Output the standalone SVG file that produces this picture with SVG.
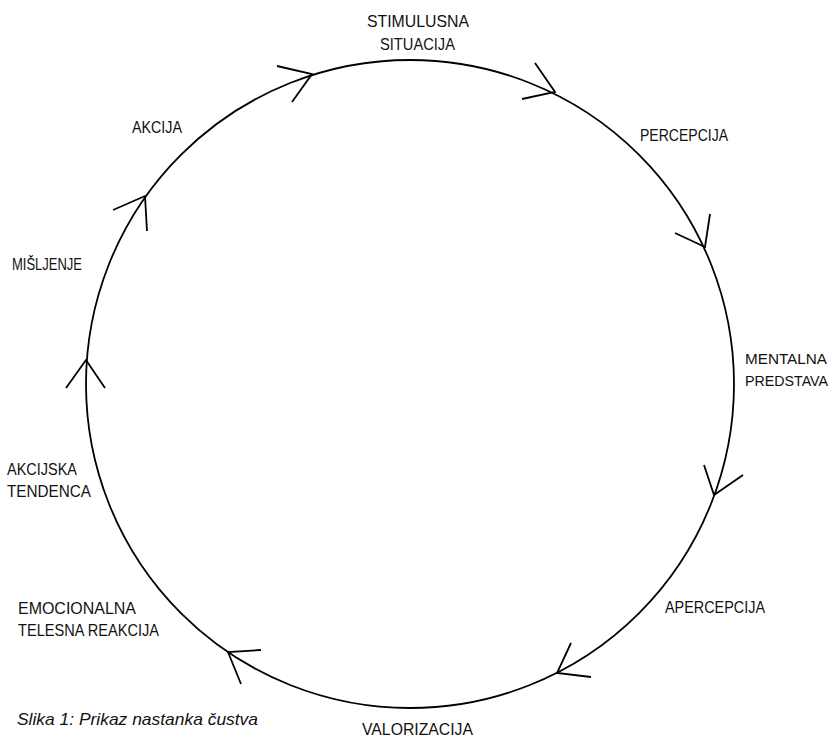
<svg xmlns="http://www.w3.org/2000/svg" width="834" height="737" viewBox="0 0 834 737">
<style>
  .lbl { font-family: "Liberation Sans", Arial, sans-serif; font-size: 16.5px; fill: #111; }
  .sm { font-size: 14.5px; }
  .cap { font-family: "Liberation Sans", Arial, sans-serif; font-size: 16.5px; font-style: italic; fill: #111; }
  .line { fill: none; stroke: #000; stroke-width: 1.8; stroke-linecap: butt; stroke-linejoin: miter; }
</style>
<rect width="834" height="737" fill="#fff"/>
<g id="connectors">
  <circle class="line" cx="410" cy="384" r="324"/>
  <polyline class="line" points="277,66 312,74 292,102"/>
  <polyline class="line" points="535,63 555,92 522,99"/>
  <polyline class="line" points="710,214 705,247 675,233"/>
  <polyline class="line" points="704,465 714,495 743,475"/>
  <polyline class="line" points="571,643 557,673 591,677"/>
  <polyline class="line" points="261,650 228,652 241,684"/>
  <polyline class="line" points="66,388 86,360 105,388"/>
  <polyline class="line" points="113,210 145,196 147,231"/>
</g>
<g id="stimulusna-situacija">
  <text class="lbl" x="367" y="27" textLength="102" lengthAdjust="spacingAndGlyphs">STIMULUSNA</text>
  <text class="lbl" x="380" y="50" textLength="75" lengthAdjust="spacingAndGlyphs">SITUACIJA</text>
</g>
<g id="percepcija">
  <text class="lbl" x="640" y="141" textLength="88" lengthAdjust="spacingAndGlyphs">PERCEPCIJA</text>
</g>
<g id="mentalna-predstava">
  <text class="lbl sm" x="745" y="364" textLength="82" lengthAdjust="spacingAndGlyphs">MENTALNA</text>
  <text class="lbl sm" x="745" y="386" textLength="83" lengthAdjust="spacingAndGlyphs">PREDSTAVA</text>
</g>
<g id="apercepcija">
  <text class="lbl" x="665" y="613" textLength="100" lengthAdjust="spacingAndGlyphs">APERCEPCIJA</text>
</g>
<g id="valorizacija">
  <text class="lbl" x="362" y="735" textLength="111" lengthAdjust="spacingAndGlyphs">VALORIZACIJA</text>
</g>
<g id="emocionalna-telesna-reakcija">
  <text class="lbl" x="18" y="614" textLength="118" lengthAdjust="spacingAndGlyphs">EMOCIONALNA</text>
  <text class="lbl" x="18" y="636" textLength="141" lengthAdjust="spacingAndGlyphs">TELESNA REAKCIJA</text>
</g>
<g id="akcijska-tendenca">
  <text class="lbl" x="7" y="475" textLength="70" lengthAdjust="spacingAndGlyphs">AKCIJSKA</text>
  <text class="lbl" x="7" y="497" textLength="84" lengthAdjust="spacingAndGlyphs">TENDENCA</text>
</g>
<g id="misljenje">
  <text class="lbl" x="12" y="270" textLength="70" lengthAdjust="spacingAndGlyphs">MIŠLJENJE</text>
</g>
<g id="akcija">
  <text class="lbl" x="132" y="133" textLength="50" lengthAdjust="spacingAndGlyphs">AKCIJA</text>
</g>
<g id="caption">
  <text class="cap" x="17" y="725" textLength="241" lengthAdjust="spacingAndGlyphs">Slika 1: Prikaz nastanka čustva</text>
</g>
</svg>
